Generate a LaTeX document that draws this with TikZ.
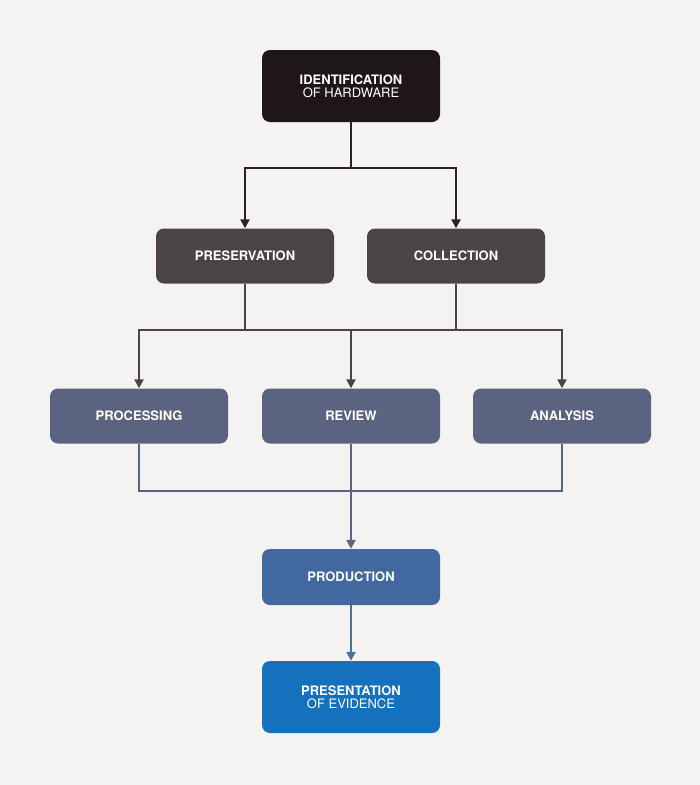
\documentclass[tikz,border=0pt]{standalone}
\usepackage{fontspec}
\setmainfont{TeX Gyre Heros}
\usetikzlibrary{arrows.meta}
\definecolor{bg}{HTML}{F4F3F1}
\definecolor{cA}{HTML}{1E1617}
\definecolor{cB}{HTML}{4A4444}
\definecolor{cC}{HTML}{5A6480}
\definecolor{cD}{HTML}{4169A0}
\definecolor{cE}{HTML}{1570BE}
\definecolor{lA}{HTML}{2A2222}
\definecolor{lB}{HTML}{4A4444}
\definecolor{lC}{HTML}{5A6480}
\definecolor{lD}{HTML}{4A6FA5}
\tikzset{
 box/.style={rounded corners=8pt, minimum width=178pt, inner sep=0pt, text=white, align=center, font=\bfseries\fontsize{13}{15}\selectfont},
 conn/.style={line width=2.5pt},
 arr/.style={conn,-{Triangle[length=9pt,width=9pt]}}
}
\begin{document}
\begin{tikzpicture}[x=1pt,y=-1pt]
\fill[bg] (0,0) rectangle (700,785);
\useasboundingbox (0,0) rectangle (700,785);
\node[box, fill=cA, minimum height=72pt] (id) at (351,86) {IDENTIFICATION\\[-2pt]{\mdseries OF HARDWARE}};
\node[box, fill=cB, minimum height=55pt] (pres) at (245,256) {PRESERVATION};
\node[box, fill=cB, minimum height=55pt] (coll) at (456,256) {COLLECTION};
\node[box, fill=cC, minimum height=55pt] (proc) at (139,416) {PROCESSING};
\node[box, fill=cC, minimum height=55pt] (rev) at (351,416) {REVIEW};
\node[box, fill=cC, minimum height=55pt] (ana) at (562,416) {ANALYSIS};
\node[box, fill=cD, minimum height=56pt] (prod) at (351,577) {PRODUCTION};
\node[box, fill=cE, minimum height=72pt] (pre) at (351,697) {PRESENTATION\\[-2pt]{\mdseries OF EVIDENCE}};
\coordinate (j1) at (351,168);
\coordinate (j2) at (351,330);
\coordinate (j3) at (351,491);
\draw[conn,lA] (id.south) -- (j1);
\draw[arr,lA] (j1) -| (pres.north);
\draw[arr,lA] (j1) -| (coll.north);
\draw[conn,lB] (pres.south) |- (j2);
\draw[conn,lB] (coll.south) |- (j2);
\draw[arr,lB] (j2) -| (proc.north);
\draw[arr,lB] (j2) -- (rev.north);
\draw[arr,lB] (j2) -| (ana.north);
\draw[conn,lC] (proc.south) |- (j3);
\draw[conn,lC] (ana.south) |- (j3);
\draw[arr,lC] (rev.south) -- (prod.north);
\draw[arr,lD] (prod.south) -- (pre.north);
\end{tikzpicture}
\end{document}
